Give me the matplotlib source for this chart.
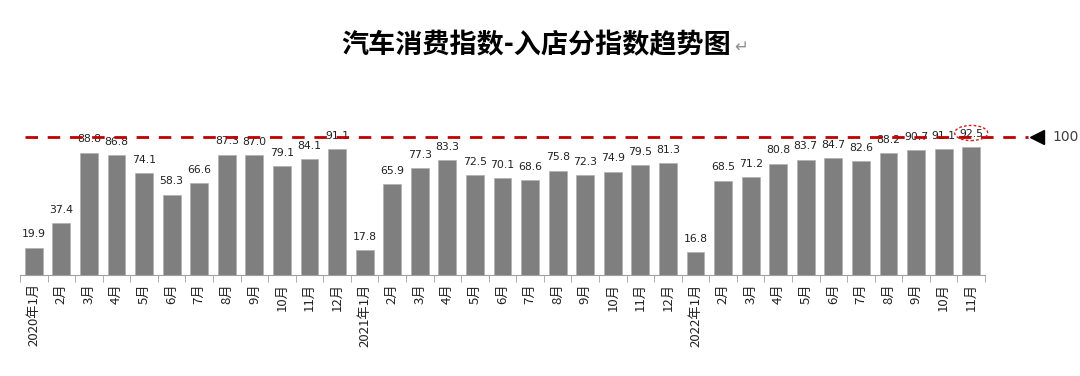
import numpy as np
import matplotlib.pyplot as plt
from matplotlib.patches import Ellipse
import matplotlib.transforms as mtransforms

plt.rcParams['font.family'] = ['Noto Sans CJK SC', 'DejaVu Sans']

# data
months = ['2020年1月', '2月', '3月', '4月', '5月', '6月', '7月', '8月', '9月', '10月', '11月', '12月',
          '2021年1月', '2月', '3月', '4月', '5月', '6月', '7月', '8月', '9月', '10月', '11月', '12月',
          '2022年1月', '2月', '3月', '4月', '5月', '6月', '7月', '8月', '9月', '10月', '11月']
values = [19.9, 37.4, 88.8, 86.8, 74.1, 58.3, 66.6, 87.3, 87.0, 79.1, 84.1, 91.1,
          17.8, 65.9, 77.3, 83.3, 72.5, 70.1, 68.6, 75.8, 72.3, 74.9, 79.5, 81.3,
          16.8, 68.5, 71.2, 80.8, 83.7, 84.7, 82.6, 88.2, 90.7, 91.1, 92.5]
baseline = 100

fig = plt.figure(figsize=(10.8, 3.76), dpi=100)
ax = fig.add_axes([0.0185, 0.2686, 0.8935, 0.385])

x = np.arange(len(values))
ax.bar(x, values, width=0.65, color='#7f7f7f', edgecolor='#b0b0b0', linewidth=0.5, zorder=2)

for xi, v in zip(x, values):
    ax.text(xi, v + 6, f'{v:.1f}', ha='center', va='bottom', fontsize=7.8,
            color='#222222', family='DejaVu Sans')

ax.set_xlim(-0.5, len(values) - 0.5)
ax.set_ylim(0, 105)

# 100 reference line extending past the axes
trans = mtransforms.blended_transform_factory(ax.transAxes, ax.transData)
ax.plot([0.005, 1.045], [baseline, baseline], transform=trans, color='#c00000',
        lw=2, ls=(0, (4.5, 3.5)), clip_on=False, zorder=3)
ax.plot([1.054], [baseline], transform=trans, marker='<', color='black',
        markersize=10, clip_on=False)
ax.text(1.07, baseline, str(baseline), transform=trans, ha='left', va='center',
        fontsize=10, color='#404040', family='DejaVu Sans')

# highlight last value
ax.add_patch(Ellipse((x[-1], values[-1] + 10.5), 1.2, 11, fill=False, ec='#d02020',
                     ls=(0, (2, 1.5)), lw=1, clip_on=False, zorder=4))

for s in ['top', 'right', 'left']:
    ax.spines[s].set_visible(False)
ax.spines['bottom'].set_color('#a0a0a0')
ax.set_yticks([])
ax.set_xticks(x)
ax.set_xticklabels(months, rotation=90, fontsize=9.5, color='#222222')
ax.tick_params(axis='x', length=0, pad=6)
ax.set_xticks(np.arange(-0.5, len(values)), minor=True)
ax.tick_params(axis='x', which='minor', length=5, color='#a0a0a0')

fig.text(0.4968, 0.88, '汽车消费指数-入店分指数趋势图', ha='center', va='center',
         fontsize=19.5, fontweight='bold', color='black')
fig.text(0.680, 0.875, '↵', ha='left', va='center', fontsize=12, color='#909090',
         family=['DejaVu Sans'])

fig.savefig('out.png', dpi=100)
